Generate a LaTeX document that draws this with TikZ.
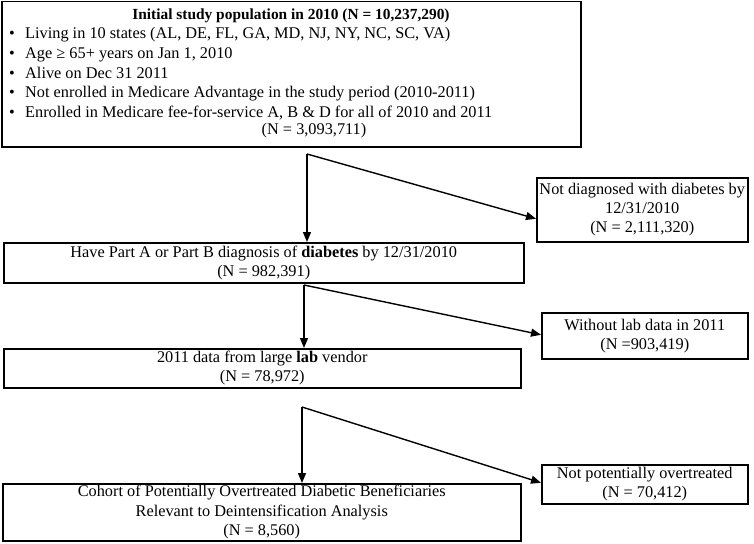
\documentclass[tikz,border=0pt]{standalone}
\usepackage{fontspec}
\setmainfont{Liberation Serif}
\usetikzlibrary{arrows.meta}
\begin{document}
\begin{tikzpicture}[x=1pt,y=-1pt,
  font=\fontsize{16.3}{19.3}\selectfont,
  box/.style={draw, line width=1.5pt, inner sep=0pt, anchor=north west, align=center},
  txt/.style={inner sep=0pt, anchor=base west},
  arr/.style={line width=1.4pt, -{Triangle[length=10pt,width=8pt]}}]
\useasboundingbox (0,0) rectangle (754,543);

% box 1
\node[box, minimum width=579pt, minimum height=145pt] (b1) at (1,1) {};
\node[inner sep=0pt, anchor=base] (t0) at (291,19.5) {\fontsize{15.4}{18}\selectfont\textbf{Initial study population in 2010 (N = 10,237,290)}};
\node[txt] (u1) at (9,39) {•};
\node[txt] (l1) at (25,39) {Living in 10 states (AL, DE, FL, GA, MD, NJ, NY, NC, SC, VA)};
\node[txt] (u2) at (9,58.5) {•};
\node[txt] (l2) at (25,58.5) {Age ≥ 65+ years on Jan 1, 2010};
\node[txt] (u3) at (9,78) {•};
\node[txt] (l3) at (25,78) {Alive on Dec 31 2011};
\node[txt] (u4) at (9,97.5) {•};
\node[txt] (l4) at (25,97.5) {Not enrolled in Medicare Advantage in the study period (2010-2011)};
\node[txt] (u5) at (9,117) {•};
\node[txt] (l5) at (25,117) {Enrolled in Medicare fee-for-service A, B \& D for all of 2010 and 2011};
\node[inner sep=0pt, anchor=base] (l6) at (314,134) {(N = 3,093,711)};

% right boxes
\node[box, minimum width=211pt, minimum height=64pt] (nd) at (536,177)
  {Not diagnosed with diabetes by\\12/31/2010\\(N = 2,111,320)};
\node[box, minimum width=206pt, minimum height=46pt] (wl) at (541,312)
  {Without lab data in 2011\\(N =903,419)};
\node[box, minimum width=206pt, minimum height=39pt] (np) at (541,464)
  {Not potentially overtreated\\(N = 70,412)};

% left boxes
\node[box, minimum width=520pt, minimum height=40pt] (b2) at (3,242)
  {Have Part A or Part B diagnosis of \textbf{diabetes} by 12/31/2010\\(N = 982,391)};
\node[box, minimum width=517pt, minimum height=39pt] (b3) at (3,348)
  {2011 data from large \textbf{lab} vendor\\(N = 78,972)};
\node[box, minimum width=518pt, minimum height=57pt] (b4) at (2,483)
  {Cohort of Potentially Overtreated Diabetic Beneficiaries\\Relevant to Deintensification Analysis\\(N = 8,560)};

% connectors
\coordinate (j1) at (307,154);
\coordinate (j2) at (304,285);
\coordinate (j3) at (302,407);
\draw[arr] (j1) -- (j1 |- b2.north);
\draw[arr] (j1) -- ([yshift=-9pt]nd.west);
\draw[arr] (j2) -- (j2 |- b3.north);
\draw[arr] (j2) -- ([yshift=1pt]wl.west);
\draw[arr] (j3) -- (j3 |- b4.north);
\draw[arr] (j3) -- ([yshift=1.5pt]np.west);
\end{tikzpicture}
\end{document}
